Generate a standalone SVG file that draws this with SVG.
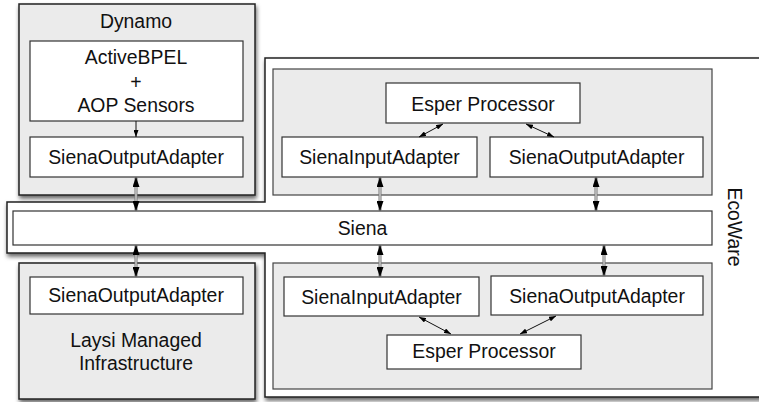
<svg xmlns="http://www.w3.org/2000/svg" width="759" height="402" viewBox="0 0 759 402">
<defs>
<filter id="sh" x="-10%" y="-10%" width="125%" height="130%">
<feDropShadow dx="1" dy="3" stdDeviation="2" flood-color="#000" flood-opacity="0.6"/>
</filter>
<marker id="big" markerUnits="userSpaceOnUse" markerWidth="10" markerHeight="7" refX="10" refY="3.5" orient="auto-start-reverse">
<path d="M0,0 L10,3.5 L0,7 z" fill="#000"/>
</marker>
<marker id="sm" markerUnits="userSpaceOnUse" markerWidth="7" markerHeight="5" refX="7" refY="2.5" orient="auto-start-reverse">
<path d="M0,0 L7,2.5 L0,5 z" fill="#000"/>
</marker>
</defs>
<style>
text{font-family:"Liberation Sans",Arial,sans-serif;font-size:19.4px;fill:#111;text-anchor:middle}
.outer{fill:#ebebeb;stroke:#222;stroke-width:1.5}
.gray{fill:#ebebeb;stroke:#444;stroke-width:1.2}
.box{fill:#fff;stroke:#333;stroke-width:1.2}
.dl{stroke:#777;stroke-width:3;fill:none}
.dli{stroke:#eee;stroke-width:1;fill:none}
.thin{stroke:#111;stroke-width:1;fill:none}
</style>
<rect width="759" height="402" fill="#fff"/>

<g id="ecoware">
<path d="M265,58 H770 V397 H265 V253 H7 V202 H265 Z" fill="#fff" stroke="#222" stroke-width="1.5" filter="url(#sh)"/>
<text transform="translate(728,227) rotate(90)">EcoWare</text>
</g>

<g id="siena">
<rect x="13" y="211" width="699" height="34" class="box"/>
<text x="362.5" y="235">Siena</text>
</g>

<g id="dynamo">
<rect x="19" y="4" width="236" height="191" class="outer" filter="url(#sh)"/>
<text x="136" y="28">Dynamo</text>
</g>
<g id="activebpel">
<rect x="30" y="41" width="213" height="80" class="box"/>
<text x="136" y="64">ActiveBPEL</text>
<text x="136" y="89">+</text>
<text x="136" y="112">AOP Sensors</text>
</g>
<g id="dynamo-soa">
<rect x="30" y="137" width="213" height="40" class="box"/>
<text x="136" y="164">SienaOutputAdapter</text>
</g>

<g id="laysi">
<rect x="19" y="263" width="236" height="136" class="outer" filter="url(#sh)"/>
<text x="136" y="347">Laysi Managed</text>
<text x="136" y="370">Infrastructure</text>
</g>
<g id="laysi-soa">
<rect x="30" y="277" width="213" height="37" class="box"/>
<text x="136" y="302">SienaOutputAdapter</text>
</g>

<g id="upper-group">
<rect x="273" y="69" width="439" height="126" class="gray"/>
</g>
<g id="upper-esper">
<rect x="386" y="83" width="194" height="40" class="box"/>
<text x="483" y="111">Esper Processor</text>
</g>
<g id="upper-sia">
<rect x="282" y="137" width="195" height="40" class="box"/>
<text x="379.5" y="164">SienaInputAdapter</text>
</g>
<g id="upper-soa">
<rect x="490" y="137" width="213" height="40" class="box"/>
<text x="596.5" y="164">SienaOutputAdapter</text>
</g>

<g id="lower-group">
<rect x="273" y="263" width="439" height="126" class="gray"/>
</g>
<g id="lower-sia">
<rect x="284" y="277" width="195" height="39" class="box"/>
<text x="381.5" y="304">SienaInputAdapter</text>
</g>
<g id="lower-soa">
<rect x="491" y="276" width="212" height="39" class="box"/>
<text x="597" y="303">SienaOutputAdapter</text>
</g>
<g id="lower-esper">
<rect x="387" y="335" width="194" height="34" class="box"/>
<text x="484" y="358">Esper Processor</text>
</g>

<g id="connectors">
<line x1="136" y1="121" x2="136" y2="137" class="thin" marker-end="url(#sm)"/>

<line x1="136" y1="177" x2="136" y2="211" class="dl" marker-start="url(#big)" marker-end="url(#big)"/>
<line x1="136" y1="187" x2="136" y2="201" class="dli"/>
<line x1="136" y1="245" x2="136" y2="277" class="dl" marker-start="url(#big)" marker-end="url(#big)"/>
<line x1="136" y1="255" x2="136" y2="267" class="dli"/>

<line x1="380" y1="177" x2="380" y2="211" class="dl" marker-start="url(#big)" marker-end="url(#big)"/>
<line x1="380" y1="187" x2="380" y2="201" class="dli"/>
<line x1="596" y1="177" x2="596" y2="211" class="dl" marker-start="url(#big)" marker-end="url(#big)"/>
<line x1="596" y1="187" x2="596" y2="201" class="dli"/>

<line x1="380" y1="245" x2="380" y2="277" class="dl" marker-start="url(#big)" marker-end="url(#big)"/>
<line x1="380" y1="255" x2="380" y2="267" class="dli"/>
<line x1="604" y1="245" x2="604" y2="276" class="dl" marker-start="url(#big)" marker-end="url(#big)"/>
<line x1="604" y1="255" x2="604" y2="266" class="dli"/>

<line x1="443" y1="124" x2="419" y2="137" class="thin" marker-start="url(#sm)" marker-end="url(#sm)"/>
<line x1="526" y1="124" x2="554" y2="137" class="thin" marker-start="url(#sm)" marker-end="url(#sm)"/>
<line x1="419" y1="317" x2="451" y2="334" class="thin" marker-start="url(#sm)" marker-end="url(#sm)"/>
<line x1="556" y1="316" x2="520" y2="334" class="thin" marker-start="url(#sm)" marker-end="url(#sm)"/>
</g>
</svg>
